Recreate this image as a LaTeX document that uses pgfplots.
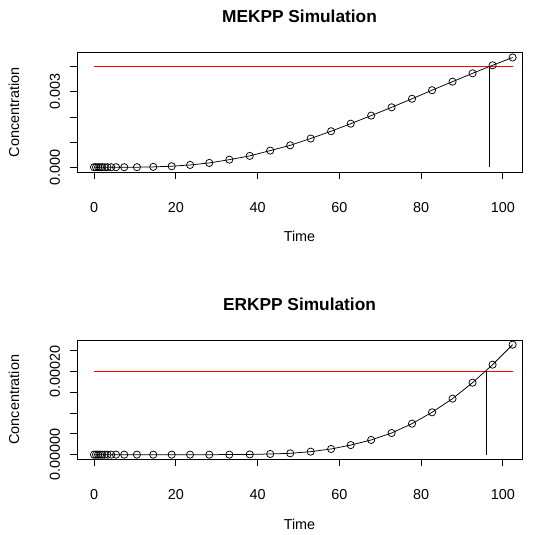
\documentclass[border=0pt]{standalone}
\usepackage{pgfplots}
\pgfplotsset{compat=1.18}
\usepackage{fontspec}
\setmainfont{Liberation Sans}
\definecolor{rred}{RGB}{255,0,0}
\pgfplotstableread{
t c
0 0
0.5 0
1.0 0
1.5 0
2.0 0
2.6 0
3.3 0
4.2 0
5.4 0
7.4 0
10.5 0.000002
14.5 0.000013
19.0 0.00004
23.5 0.00009
28.2 0.00017
33.1 0.00030
38.1 0.00045
43.1 0.00066
48.0 0.00087
53.0 0.00114
58.0 0.00143
62.8 0.00173
67.8 0.00205
72.8 0.00238
77.8 0.00272
82.7 0.00306
87.7 0.00340
92.6 0.00373
97.5 0.00405
102.4 0.00436
}\mekpp
\pgfplotstableread{
t c
0 0
0.5 0
1.0 0
1.5 0
2.0 0
2.6 0
3.3 0
4.2 0
5.4 0
7.4 0
10.5 0
14.5 0
19.0 0
23.5 0
28.2 0
33.1 0.0000001
38.1 0.0000005
43.1 0.0000016
48.0 0.0000032
53.0 0.0000072
58.0 0.0000136
62.8 0.0000230
67.8 0.0000353
72.8 0.0000520
77.8 0.0000745
82.7 0.0001018
87.7 0.0001346
92.6 0.0001730
97.5 0.0002163
102.4 0.0002644
}\erkpp
\pgfplotsset{
  rbase/.style={
    scale only axis,
    width=445bp,
    height=119.3bp,
    anchor=south west,
    xmin=-4.16, xmax=104.7,
  },
  topy/.style={at={(77bp,360bp)}, ymin=-0.00019, ymax=0.00455},
  boty/.style={at={(77bp,72.7bp)}, ymin=-0.0000112, ymax=0.0002756},
  rstyle/.style={
    rbase,
    axis line style={line width=0.75bp},
    tick align=outside,
    major tick length=7bp,
    tick style={line width=0.75bp, black},
    xtick pos=bottom,
    ytick pos=left,
    xtick={0,20,40,60,80,100},
    xticklabels={0,20,40,60,80,100},
    scaled y ticks=false,
    yticklabel style={rotate=90, anchor=south, yshift=5bp},
    xticklabel style={yshift=-18bp},
    xlabel={Time},
    ylabel={Concentration},
    xlabel style={at={(axis description cs:0.5,0)}, anchor=center, yshift=-64.7bp},
    ylabel style={at={(axis description cs:0,0.5)}, anchor=center, yshift=63bp},
    title style={at={(axis description cs:0.5,1)}, anchor=center, yshift=30bp, font=\fontsize{17.3bp}{20bp}\selectfont\bfseries},
    every axis plot/.append style={line width=0.75bp},
  }
}
\begin{document}
\fontsize{14.4bp}{17bp}\selectfont
\begin{tikzpicture}
\path (0,0) rectangle (535bp,532bp);
% Red threshold lines, drawn as one plot in the MEKPP panel's units:
% 0.004 (MEKPP threshold) and -0.0081145 (= the ERKPP threshold 0.0002
% of the lower panel, expressed in the upper panel's y scale).
\begin{axis}[rbase, topy, hide axis, clip=false, unbounded coords=jump]
\addplot[draw=rred, line width=1bp, no marks] coordinates {
 (0,0.004) (102.4,0.004) (102.4,nan)
 (0,-0.0081145) (102.4,-0.0081145)};
\end{axis}
\begin{axis}[rstyle, topy,
  ytick={0,0.001,0.002,0.003,0.004},
  yticklabels={0.000,,,0.003,},
  title={MEKPP Simulation}]
\addplot[black, mark=o, mark size=3.6bp, mark options={line width=0.75bp}] table[x=t,y=c] {\mekpp};
\addplot[black, no marks] coordinates {(96.65,0) (96.65,0.004)};
\end{axis}
\begin{axis}[rstyle, boty,
  ytick={0,0.00005,0.0001,0.00015,0.0002,0.00025},
  yticklabels={0.00000,,,,0.00020,},
  title={ERKPP Simulation}]
\addplot[black, mark=o, mark size=3.6bp, mark options={line width=0.75bp}] table[x=t,y=c] {\erkpp};
\addplot[black, no marks] coordinates {(95.9,0) (95.9,0.0002)};
\end{axis}
\end{tikzpicture}
\end{document}
